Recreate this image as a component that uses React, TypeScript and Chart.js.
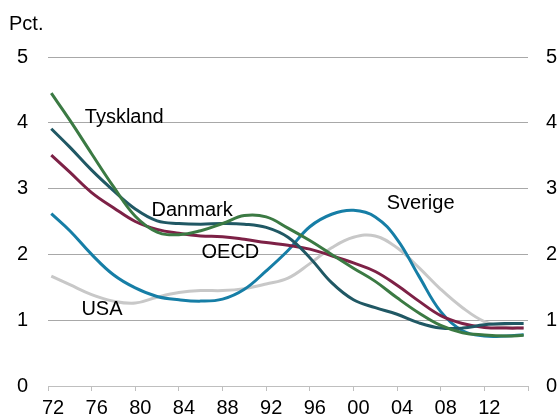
import { useEffect, useRef } from 'react';
import { Chart, registerables } from 'chart.js';

Chart.register(...registerables);

const years = [1972.3, 1974, 1976, 1978, 1980, 1982, 1984, 1986, 1988, 1990, 1992, 1994, 1996, 1998, 2000, 2002, 2004, 2006, 2008, 2010, 2012, 2014, 2015.6];

const tyskland = [4.45, 4.04, 3.53, 3.03, 2.58, 2.34, 2.30, 2.36, 2.47, 2.59, 2.57, 2.40, 2.21, 2.00, 1.79, 1.59, 1.34, 1.11, 0.92, 0.81, 0.775, 0.76, 0.77];
const danmark = [3.91, 3.63, 3.28, 2.97, 2.69, 2.51, 2.47, 2.46, 2.47, 2.46, 2.41, 2.26, 1.95, 1.57, 1.31, 1.19, 1.09, 0.96, 0.88, 0.88, 0.93, 0.95, 0.95];
const oecd = [3.51, 3.25, 2.94, 2.71, 2.50, 2.38, 2.32, 2.28, 2.27, 2.23, 2.18, 2.14, 2.08, 1.98, 1.87, 1.74, 1.53, 1.29, 1.07, 0.95, 0.89, 0.88, 0.88];
const sverige = [2.62, 2.36, 2.00, 1.69, 1.49, 1.36, 1.31, 1.29, 1.32, 1.47, 1.75, 2.06, 2.42, 2.61, 2.67, 2.57, 2.23, 1.67, 1.13, 0.84, 0.76, 0.76, 0.78];
const usa = [1.67, 1.54, 1.39, 1.29, 1.26, 1.35, 1.42, 1.45, 1.45, 1.48, 1.55, 1.64, 1.86, 2.10, 2.26, 2.28, 2.10, 1.80, 1.47, 1.19, 0.98, 0.90, 0.88];

const seriesNames = ['Tyskland', 'Danmark', 'OECD', 'Sverige', 'USA'];
const seriesColors = ['#3b7a43', '#205864', '#7d2146', '#167ea6', '#c8c8c8'];
const seriesValues = [tyskland, danmark, oecd, sverige, usa];

// text labels placed in data coordinates (year, value), left-aligned on baseline
const labelTexts = ['Tyskland', 'Danmark', 'OECD', 'USA', 'Sverige'];
const labelYears = [1975.37, 1981.49, 1986.07, 1975.06, 2003.05];
const labelValues = [4.0, 2.59, 1.94, 1.08, 2.69];

const unitLabel = 'Pct.';
const FONT = '"Liberation Sans", Arial, sans-serif';

const labelPlugin = {
  id: 'seriesLabels',
  afterDatasetsDraw(chart: any) {
    const { ctx, scales } = chart;
    ctx.save();
    ctx.font = `20px ${FONT}`;
    ctx.fillStyle = '#000';
    ctx.textAlign = 'left';
    ctx.textBaseline = 'alphabetic';
    for (let i = 0; i < labelTexts.length; i++) {
      const x = scales.x.getPixelForValue(labelYears[i]);
      const y = scales.y.getPixelForValue(labelValues[i]);
      ctx.fillText(labelTexts[i], x, y);
    }
    ctx.fillText(unitLabel, 9, 30);
    ctx.restore();
  },
};

export default function App() {
  const ref = useRef<HTMLCanvasElement>(null);
  useEffect(() => {
    if (!ref.current) return;
    Chart.defaults.font.family = FONT;
    Chart.defaults.font.size = 20;
    Chart.defaults.color = '#000';
    const chart = new Chart(ref.current, {
      type: 'line',
      data: {
        datasets: seriesNames.map((name, i) => ({
          label: name,
          data: years.map((x, j) => ({ x, y: seriesValues[i][j] })),
          borderColor: seriesColors[i],
          backgroundColor: seriesColors[i],
          borderWidth: 3,
          pointRadius: 0,
          fill: false,
          tension: 0.4,
        })),
      },
      options: {
        animation: false,
        responsive: false,
        layout: { padding: { top: 57, left: 0, right: 0, bottom: 0 } },
        plugins: { legend: { display: false }, tooltip: { enabled: false } },
        scales: {
          x: {
            type: 'linear',
            min: 1972,
            max: 2016,
            afterFit: (s: any) => { s.height = 32; },
            ticks: {
              stepSize: 4,
              autoSkip: false,
              maxRotation: 0,
              labelOffset: 5,
              padding: 5,
              callback: (v: any) => (v >= 2016 ? '' : String(v % 100).padStart(2, '0')),
            },
            grid: { drawOnChartArea: false, drawTicks: true, tickLength: 5, color: '#bfbfbf' },
            border: { display: true, color: '#bfbfbf' },
          },
          y: {
            position: 'left',
            min: 0,
            max: 5,
            afterFit: (s: any) => { s.width = 48; },
            ticks: { stepSize: 1, padding: 20 },
            grid: { drawTicks: false, color: '#a8a8a8' },
            border: { display: false },
          },
          y2: {
            position: 'right',
            min: 0,
            max: 5,
            afterFit: (s: any) => { s.width = 32; },
            ticks: { stepSize: 1, padding: 18 },
            grid: { drawOnChartArea: false, drawTicks: false },
            border: { display: false },
          },
        },
      },
      plugins: [labelPlugin],
    });
    return () => chart.destroy();
  }, []);
  return (
    <div style={{ position: 'absolute', left: 0, top: 0, width: 560, height: 418, background: '#fff' }}>
      <canvas ref={ref} width={560} height={418} />
    </div>
  );
}
